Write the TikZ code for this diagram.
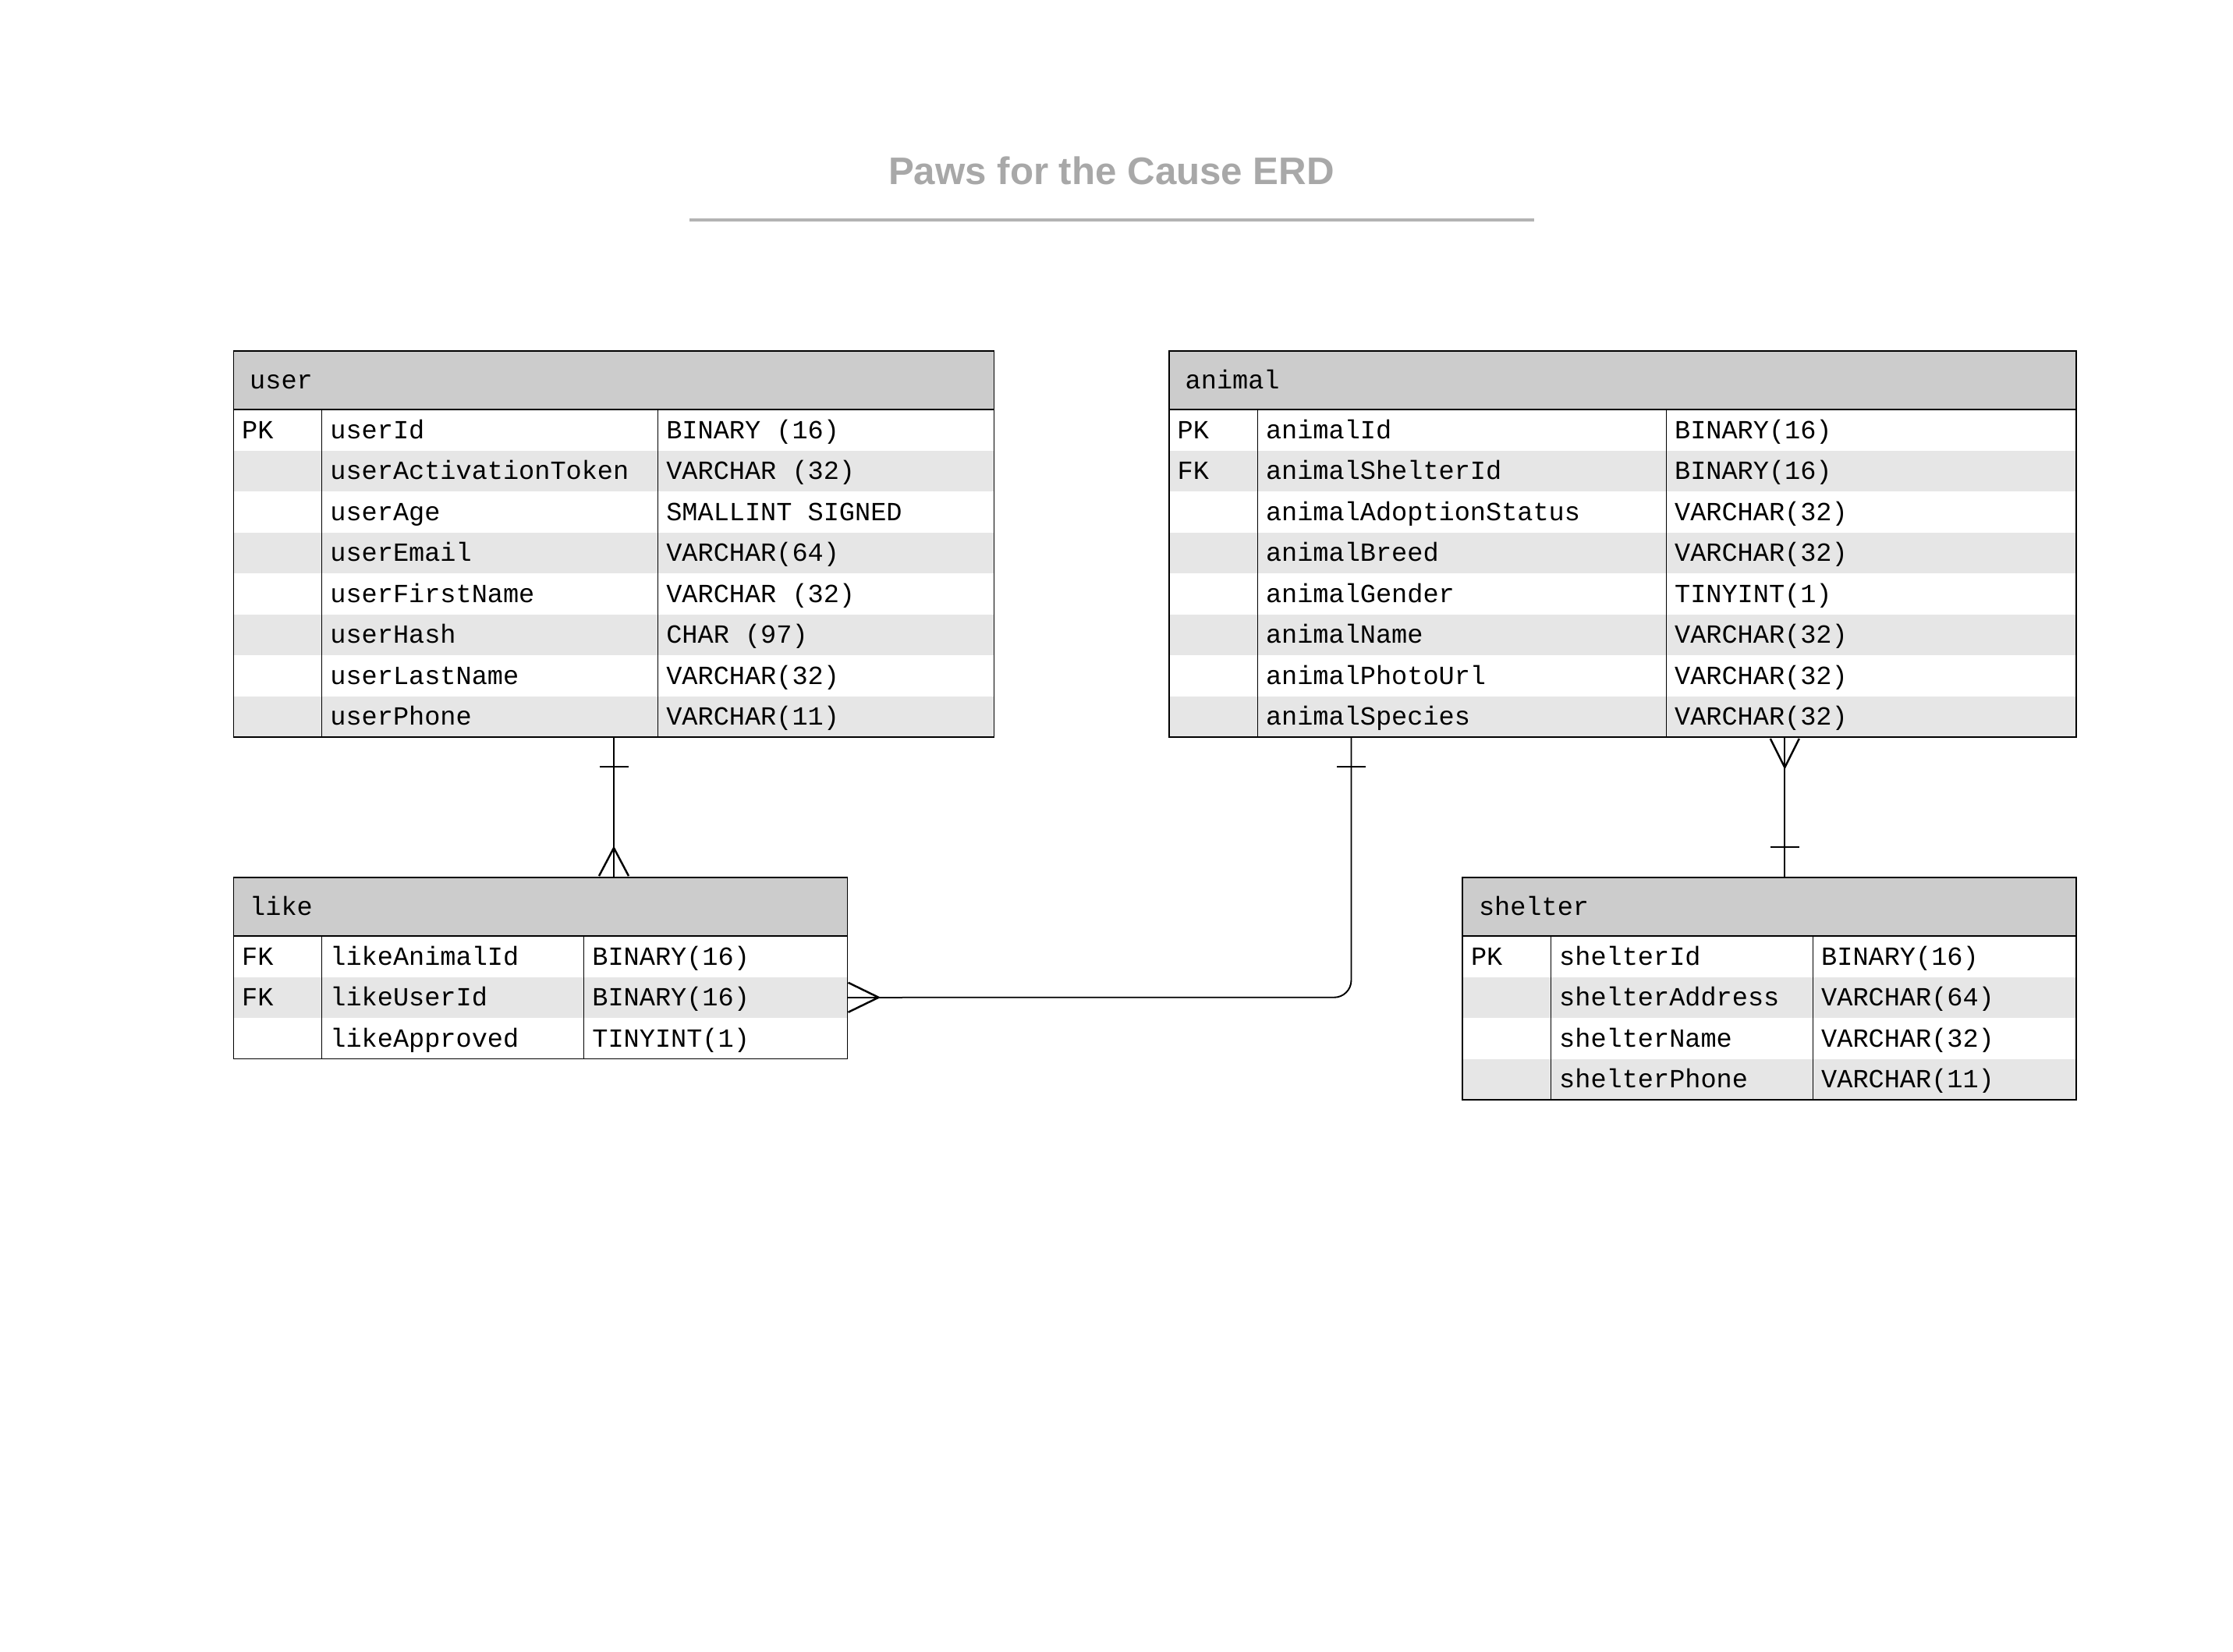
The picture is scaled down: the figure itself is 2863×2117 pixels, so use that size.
\documentclass[tikz,border=0pt]{standalone}
\usepackage{fontspec}
\setmainfont{Liberation Sans}
\newfontfamily\erdmono{Liberation Mono}
\usetikzlibrary{calc,fit}
\definecolor{hdrgray}{HTML}{CCCCCC}
\definecolor{rowgray}{HTML}{E6E6E6}
\definecolor{titlegray}{HTML}{A8A8A8}
\definecolor{rulegray}{HTML}{B3B3B3}

% one ERD table: #1 name, #2 left, #3 top, #4 first column rule, #5 second column rule,
% #6 right, #7 title, #8 rows as key/field/type
\newcommand\erdtable[8]{%
  \fill[hdrgray] (#2,#3) rectangle (#6,#3+75);
  \node[celltext] (#1-title) at (#2+20,#3+37.5+11) {#7};
  \foreach \ka/\kb/\kc [count=\i] in {#8} {
    \pgfmathsetmacro\ya{#3+75+52.5*(\i-1)}
    \pgfmathsetmacro\yb{\ya+52.5}
    \pgfmathsetmacro\ym{\ya+26.25+11}
    \ifodd\i\else\fill[rowgray] (#2,\ya) rectangle (#6,\yb);\fi
    \node[celltext] (#1-k\i) at (#2+10,\ym) {\ka};
    \node[celltext] (#1-f\i) at (#4+10,\ym) {\kb};
    \node[celltext] (#1-t\i) at (#5+10,\ym) {\kc};
    \coordinate (#1-row\i) at (#6,\ya+26.25);
    \xdef\erdrows{\i}
  }
  \pgfmathsetmacro\ybot{#3+75+52.5*\erdrows}
  \draw[colrule] (#4,#3+75) -- (#4,\ybot);
  \draw[colrule] (#5,#3+75) -- (#5,\ybot);
  \draw[border] (#2,#3+75) -- (#6,#3+75);
  \coordinate (#1-nw) at (#2,#3);
  \coordinate (#1-se) at (#6,\ybot);
  \node[border, fit=(#1-nw)(#1-se), inner sep=0pt, draw] (#1) {};
}

\begin{document}
\begin{tikzpicture}[x=0.01cm, y=-0.01cm,
  celltext/.style={anchor=base west, inner sep=0pt, font=\erdmono\fontsize{9.55}{11}\selectfont},
  colrule/.style={line width=0.3pt, black},
  border/.style={line width=0.55pt, black},
  conn/.style={line width=0.55pt, black},
  foot/.style={line width=0.7pt, black, line join=miter},
  ]
\useasboundingbox (0,0) rectangle (2863,2117);

% heading
\node[font=\fontsize{14}{16}\selectfont\bfseries, text=titlegray] (title) at (1425,219) {Paws for the Cause ERD};
\draw[line width=1.1pt, rulegray] (884,282) -- (1967,282);

% tables
\erdtable{user}{299.5}{450}{412.7}{843.6}{1274.5}{user}{
  PK/userId/BINARY (16),
  {}/userActivationToken/VARCHAR (32),
  {}/userAge/SMALLINT SIGNED,
  {}/userEmail/VARCHAR(64),
  {}/userFirstName/VARCHAR (32),
  {}/userHash/CHAR (97),
  {}/userLastName/VARCHAR(32),
  {}/userPhone/VARCHAR(11)}

\erdtable{animal}{1499}{450}{1612.3}{2136.4}{2662.3}{animal}{
  PK/animalId/BINARY(16),
  FK/animalShelterId/BINARY(16),
  {}/animalAdoptionStatus/VARCHAR(32),
  {}/animalBreed/VARCHAR(32),
  {}/animalGender/TINYINT(1),
  {}/animalName/VARCHAR(32),
  {}/animalPhotoUrl/VARCHAR(32),
  {}/animalSpecies/VARCHAR(32)}

\erdtable{like}{299.5}{1125}{412.7}{748.7}{1086.5}{like}{
  FK/likeAnimalId/BINARY(16),
  FK/likeUserId/BINARY(16),
  {}/likeApproved/TINYINT(1)}

\erdtable{shelter}{1875.3}{1125}{1988.5}{2324.5}{2662.3}{shelter}{
  PK/shelterId/BINARY(16),
  {}/shelterAddress/VARCHAR(64),
  {}/shelterName/VARCHAR(32),
  {}/shelterPhone/VARCHAR(11)}

% user (one) -- like (many)
\coordinate (ul-top) at (user.south);
\coordinate (ul-bot) at (user.south |- like.north);
\draw[conn, line width=0.4pt] (ul-top) -- ($(ul-bot)+(0,-90)$);
\draw[foot] ($(ul-bot)+(0,-90)$) -- (ul-bot);
\draw[conn, line width=0.4pt] ($(ul-top)+(-18.5,37)$) -- ($(ul-top)+(18.5,37)$);
\draw[foot] ($(ul-bot)+(-19,-1)$) -- ($(ul-bot)+(0,-37)$) -- ($(ul-bot)+(19,-1)$);

% animal (one) -- like (many)
\coordinate (al-top) at ($(animal.south west)!0.2012!(animal.south east)$);
\draw[conn, rounded corners=0.22cm] (al-top) |- ($(like-row2)+(70,0)$);
\draw[foot] ($(like-row2)+(70,0)$) -- (like-row2);
\draw[conn, line width=0.4pt] ($(al-top)+(-18.5,37)$) -- ($(al-top)+(18.5,37)$);
\draw[foot] ($(like-row2)+(1,-19)$) -- ($(like-row2)+(40,0)$) -- ($(like-row2)+(1,19)$);

% shelter (one) -- animal (many)
\coordinate (as-top) at ($(animal.south west)!0.6782!(animal.south east)$);
\coordinate (as-bot) at (as-top |- shelter.north);
\draw[conn] (as-top) -- (as-bot);
\draw[foot] ($(as-top)+(-18.5,1)$) -- ($(as-top)+(0,38)$) -- ($(as-top)+(18.5,1)$);
\draw[conn] ($(as-bot)+(-18.5,-38)$) -- ($(as-bot)+(18.5,-38)$);
\end{tikzpicture}
\end{document}
